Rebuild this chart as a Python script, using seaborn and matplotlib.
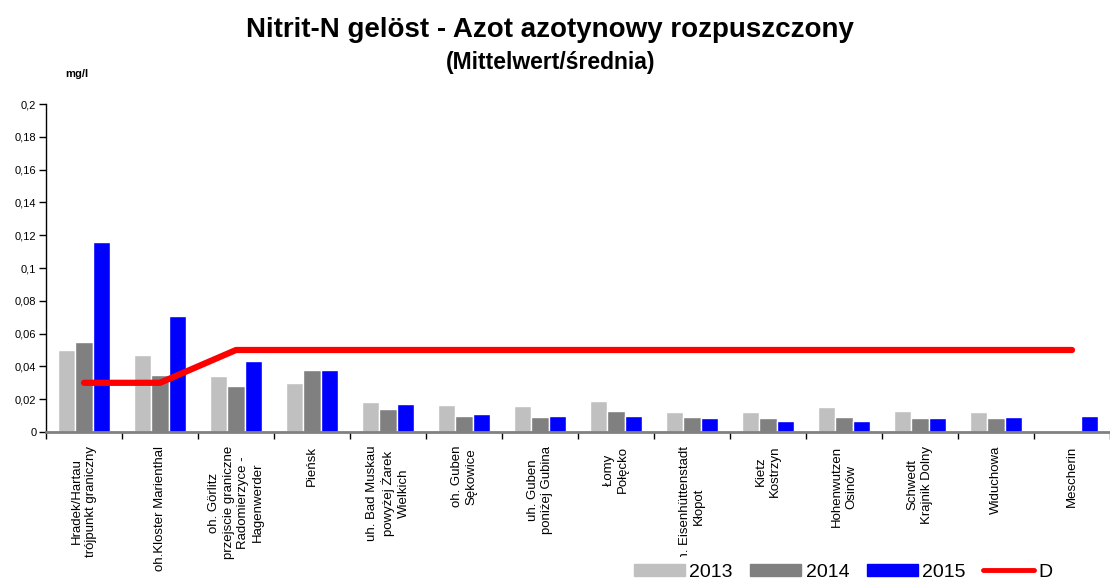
import numpy as np
import pandas as pd
import matplotlib
matplotlib.use('Agg')
import matplotlib.pyplot as plt
from matplotlib.transforms import Bbox, TransformedBbox
from matplotlib.lines import Line2D
import seaborn as sns

# measuring points (tick labels)
stations = [
    'Hradek/Hartau\ntrójpunkt graniczny',
    'oh.Kloster Marienthal',
    'oh. Görlitz\nprzejscie graniczne\nRadomierzyce -\nHagenwerder',
    'Pieńsk',
    'uh. Bad Muskau\npowyżej Żarek\nWielkich',
    'oh. Guben\nSękowice',
    'uh. Guben\nponiżej Gubina',
    'Łomy\nPołęcko',
    'uh. Eisenhüttenstadt\nKłopot',
    'Kietz\nKostrzyn',
    'Hohenwutzen\nOsinów',
    'Schwedt\nKrajnik Dolny',
    'Widuchowa',
    'Mescherin',
]

# mean values mg/l
v2013 = [0.050, 0.047, 0.034, 0.030, 0.018, 0.0165, 0.016, 0.019, 0.012, 0.012, 0.015, 0.013, 0.012, np.nan]
v2014 = [0.055, 0.035, 0.028, 0.038, 0.014, 0.010, 0.009, 0.013, 0.009, 0.0085, 0.009, 0.0085, 0.0085, np.nan]
v2015 = [0.116, 0.071, 0.043, 0.038, 0.017, 0.011, 0.010, 0.010, 0.0085, 0.007, 0.007, 0.0085, 0.009, 0.010]
d_limit = [0.03, 0.03, 0.05, 0.05, 0.05, 0.05, 0.05, 0.05, 0.05, 0.05, 0.05, 0.05, 0.05, 0.05]

years = ['2013', '2014', '2015']
colors = ['#C0C0C0', '#808080', '#0000FF']

df = pd.DataFrame({
    'station': stations * 3,
    'year': ['2013'] * 14 + ['2014'] * 14 + ['2015'] * 14,
    'value': v2013 + v2014 + v2015,
})

sns.set_style('white')
plt.rcParams['font.family'] = ['Liberation Sans', 'DejaVu Sans']
plt.rcParams['text.color'] = 'black'
plt.rcParams['xtick.color'] = 'black'
plt.rcParams['ytick.color'] = 'black'

fig = plt.figure(figsize=(11.1, 5.81), dpi=100)
ax = fig.add_axes([46 / 1110, 1 - 432 / 581, 1 - 46 / 1110, (432 - 104) / 581])

sns.barplot(data=df, x='station', y='value', hue='year', hue_order=years,
            palette=colors, width=0.68, gap=0, saturation=1, ax=ax, legend=False)
sns.lineplot(x=np.arange(len(stations)), y=d_limit, color='#FF0000', linewidth=4.5,
             ax=ax, legend=False)

ax.set_xlim(-0.5, len(stations) - 0.5)
ax.set_ylim(0, 0.2)
yt = np.round(np.arange(0, 0.201, 0.02), 2)
ax.set_yticks(yt)
ax.set_yticklabels([f'{t:g}'.replace('.', ',') for t in yt], fontsize=8)
ax.set_xlabel('')
ax.set_ylabel('')

# boundaries as major ticks, names as minor ticks
ax.set_xticks(np.arange(-0.5, len(stations), 1.0))
ax.set_xticklabels([])
ax.set_xticks(np.arange(len(stations)), minor=True)
ax.set_xticklabels(stations, minor=True, rotation=90, fontsize=9.5,
                   ha='center', va='top', multialignment='center', linespacing=1.3)
ax.tick_params(axis='x', which='major', bottom=True, direction='out', length=5, width=1,
               color='#000000')
ax.tick_params(axis='x', which='minor', bottom=True, length=0, pad=10)
ax.tick_params(axis='y', left=True, direction='out', length=5, width=1, color='#000000', pad=2)

for s in ['top', 'right']:
    ax.spines[s].set_visible(False)
ax.spines['left'].set_color('#000000')
ax.spines['left'].set_linewidth(1)
ax.spines['bottom'].set_color('#808080')
ax.spines['bottom'].set_linewidth(2)

# clip the long label at the bottom like in the original
clip = TransformedBbox(Bbox([[0, 24 / 581], [1, 1]]), fig.transFigure)
lab = ax.get_xticklabels(minor=True)[8]
lab.set_clip_on(True)
lab.set_clip_box(clip)

fig.text(0.495, 1 - 30 / 581, 'Nitrit-N gelöst - Azot azotynowy rozpuszczony',
         ha='center', va='center', fontsize=20, fontweight='bold')
fig.text(0.496, 1 - 62 / 581, '(Mittelwert/średnia)', ha='center', va='center',
         fontsize=16.5, fontweight='bold')
fig.text(77 / 1110, 1 - 74 / 581, 'mg/l', ha='center', va='center',
         fontsize=8, fontweight='bold')

handles = [plt.Rectangle((0, 0), 1, 1, color=c) for c in colors]
handles.append(Line2D([0], [0], color='#FF0000', linewidth=3.5))
fig.legend(handles, years + ['D'], loc='lower left', bbox_to_anchor=(634 / 1110, 0.0),
           ncol=4, frameon=False, fontsize=14, handlelength=2.6, handleheight=0.6,
           columnspacing=0.9, handletextpad=0.25, borderpad=0, borderaxespad=0)

fig.savefig('out.png', dpi=100)
